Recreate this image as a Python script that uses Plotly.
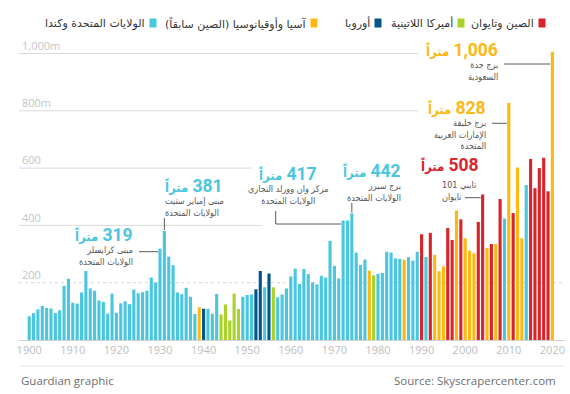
import plotly.graph_objects as go

# ---------------- data ----------------
years = list(range(1900, 2021))
heights = [
    83, 94, 107, 119, 112, 110, 94, 104, 189, 214,        # 1900-1909
    130, 127, 166, 241, 180, 172, 138, 133, 92, 162,      # 1910-1919
    95, 128, 135, 125, 176, 163, 167, 172, 218, 201,      # 1920-1929
    319, 381, 291, 261, 166, 160, 182, 151, 91, 114,      # 1930-1939
    109, 109, 92, 161, 89, 124, 68, 162, 108, 151,        # 1940-1949
    157, 159, 177, 241, 184, 232, 184, 149, 159, 180,     # 1950-1959
    222, 249, 196, 248, 230, 201, 194, 224, 218, 346,     # 1960-1969
    259, 215, 417, 417, 442, 305, 262, 281, 242, 226,     # 1970-1979
    231, 234, 308, 305, 285, 283, 280, 289, 277, 308,     # 1980-1989
    369, 290, 374, 297, 240, 257, 391, 349, 452, 421,     # 1990-1999
    355, 312, 303, 412, 508, 321, 335, 335, 492, 424,     # 2000-2009
    828, 443, 602, 355, 541, 632, 530, 600, 636, 519,     # 2010-2019
    1006,                                                 # 2020
]
regions = list(
    "UUUUUUUUUU"   # 1900s
    "UUUUUUUUUU"   # 1910s
    "UUUUUUUUUU"   # 1920s
    "UUUUUUUUUA"   # 1930s
    "EUUULLLLLU"   # 1940s
    "UUEEUELUUU"   # 1950s
    "UUUUUUUUUU"   # 1960s
    "UUUUUUUUAL"   # 1970s
    "UUUUUUAUUU"   # 1980s
    "CUCAAACCAC"   # 1990s
    "AAACCACACU"   # 2000s
    "ACAAUCCCCC"   # 2010s
    "A"            # 2020
)
legend_codes = ["C", "L", "E", "A", "U"]
legend_names = {
    "C": "الصين وتايوان",
    "L": "أميركا اللاتينية",
    "E": "أوروبا",
    "A": "آسيا وأوقيانوسيا (الصين سابقاً)\u200f",
    "U": "الولايات المتحدة وكندا",
}
grid_vals = [200, 400, 600, 800, 1000]
grid_text = ["200", "400", "600", "800m", "1,000m"]
x_tick_vals = list(range(1900, 2021, 10))

callouts = [
    dict(year=1930, num="319", lines=["مبنى كرايسلر", "الولايات المتحدة"]),
    dict(year=1931, num="381", lines=["مبنى إمباير ستيت", "الولايات المتحدة"]),
    dict(year=1972, num="417", lines=["مركز وان وورلد التجاري", "الولايات المتحدة"]),
    dict(year=1974, num="442", lines=["برج سيرز", "الولايات المتحدة"]),
    dict(year=2004, num="508", lines=["تايبي 101", "تايوان"]),
    dict(year=2010, num="828", lines=["برج خليفة", "الإمارات العربية", "المتحدة"]),
    dict(year=2020, num="1,006", lines=["برج جدة", "السعودية"]),
]
unit_word = "متراً"

# ---------------- styles ----------------
colors = {
    "U": "#4bc6df",
    "E": "#005689",
    "L": "#a9d22a",
    "A": "#fdb813",
    "C": "#d7252b",
}
GRAY_TXT = "#555555"
LEADER = "#5a5a5a"
W, H = 570, 394
LM, RM, TM, BM = 19, 5, 40, 54
PW, PH = W - LM - RM, H - TM - BM
PX_PER_YEAR = 4.36
PX_PER_M = 0.2865
X0 = 1900 - (29.2 - LM) / PX_PER_YEAR
X1 = X0 + PW / PX_PER_YEAR
Y1 = PH / PX_PER_M


def px2x(px):
    return X0 + (px - LM) / PX_PER_YEAR


def px2y(py):
    return (H - BM - py) / PX_PER_M


def xp(px):
    return (px - LM) / PW


def yp(py):
    return (H - BM - py) / PH


ARABIC = "DejaVu Sans, Noto Sans, sans-serif"
ARABIC_C = "DejaVu Sans Condensed, DejaVu Sans, sans-serif"
NUMF = "Roboto, sans-serif"
LIGHT = "Open Sans, Noto Sans, sans-serif"

fig = go.Figure()
fig.add_trace(go.Bar(
    x=years, y=heights,
    marker=dict(color=[colors[r] for r in regions], line=dict(width=0)),
    hoverinfo="x+y", showlegend=False,
))

shapes = []
# grid lines (some stop before the callouts)
grid_end_px = {200: 565, 400: 262, 600: 252, 800: 418, 1000: 418}
for v in grid_vals:
    shapes.append(dict(
        type="line", layer="below", xref="paper", yref="y",
        x0=0, x1=xp(grid_end_px[v]), y0=v, y1=v,
        line=dict(color="#d9d9d9", width=1, dash="dot" if v == 200 else "solid"),
    ))

annotations = []

# callout layout (pixel positions): big label centre, gray block centre
layout_px = {
    1930: dict(anchor="right", x=135, yb=235, yl=256),
    1931: dict(anchor="left", x=163, yb=186, yl=207),
    1972: dict(anchor="center", x=288, yb=174, yl=195),
    1974: dict(anchor="right", x=403, yb=171, yl=192),
    2004: dict(anchor="right", x=481, yb=165, yl=190.5, lanchor="left", lx=440),
    2010: dict(anchor="right", x=488, yb=107.5, yl=134.5),
    2020: dict(anchor="right", x=500, yb=49.5, yl=70.5),
}
hmap = dict(zip(years, heights))
rmap = dict(zip(years, regions))
for c in callouts:
    L = layout_px[c["year"]]
    col = colors[rmap[c["year"]]]
    txt = (f"<b><span style='font-size:13px'>{unit_word}</span>\u200e "
           f"<span style='font-family:{NUMF};font-size:17.5px'>{c['num']}</span></b>")
    annotations.append(dict(
        text=txt, x=px2x(L["x"]), y=px2y(L["yb"]), xref="x", yref="y",
        xanchor=L["anchor"], yanchor="middle", showarrow=False,
        font=dict(family=ARABIC_C, size=13, color=col),
    ))
    anc = L.get("lanchor", L["anchor"])
    annotations.append(dict(
        text="<br>".join(c["lines"]), x=px2x(L.get("lx", L["x"])), y=px2y(L["yl"]),
        xref="x", yref="y", xanchor=anc, yanchor="middle", align=anc,
        showarrow=False, font=dict(family=ARABIC_C, size=9, color=GRAY_TXT),
    ))

# leader lines
def hline(py, px_start, year):
    shapes.append(dict(type="line", xref="x", yref="y",
                       x0=px2x(px_start), x1=year - 0.45, y0=px2y(py), y1=px2y(py),
                       line=dict(color=LEADER, width=1)))


def vline(year, py_top):
    shapes.append(dict(type="line", xref="x", yref="y",
                       x0=year, x1=year, y0=px2y(py_top), y1=hmap[year] + 3,
                       line=dict(color=LEADER, width=1)))


hline(251.7, 139, 1930)
vline(1931, 218)
shapes.append(dict(type="line", xref="x", yref="y", x0=px2x(275.7), x1=px2x(275.7),
                   y0=px2y(211), y1=px2y(224), line=dict(color=LEADER, width=1)))
hline(224, 275.7, 1972)
vline(1974, 203)
hline(197.7, 465, 2004)
hline(123.3, 492, 2010)
hline(64, 504, 2020)

# legend (right-to-left)
leg_sq_px = {"C": 542, "L": 461, "E": 378, "A": 314, "U": 153}
LEG_Y = 23
for code in legend_codes:
    cx = leg_sq_px[code]
    shapes.append(dict(type="rect", xref="paper", yref="paper",
                       x0=xp(cx - 3.5), x1=xp(cx + 3.5), y0=yp(LEG_Y + 4.5), y1=yp(LEG_Y - 4.5),
                       fillcolor=colors[code], line=dict(width=0)))
    annotations.append(dict(
        text=legend_names[code], x=xp(cx - 6), y=yp(LEG_Y), xref="paper", yref="paper",
        xanchor="right", yanchor="middle", showarrow=False,
        font=dict(family=ARABIC, size=11, color="#333333"),
    ))

# footer
shapes.append(dict(type="line", xref="paper", yref="paper", x0=0, x1=1,
                   y0=yp(366), y1=yp(366), line=dict(color="#e6e6e6", width=1)))
annotations.append(dict(text="Guardian graphic", x=xp(19), y=yp(380), xref="paper", yref="paper",
                        xanchor="left", yanchor="middle", showarrow=False,
                        font=dict(family=LIGHT, size=11.5, color="#6e6e6e")))
annotations.append(dict(text="Source: Skyscrapercenter.com", x=xp(558), y=yp(380),
                        xref="paper", yref="paper", xanchor="right", yanchor="middle",
                        showarrow=False, font=dict(family=LIGHT, size=11.5, color="#6e6e6e")))

fig.update_layout(
    width=W, height=H,
    margin=dict(l=LM, r=RM, t=TM, b=BM, pad=0),
    paper_bgcolor="white", plot_bgcolor="white",
    bargap=0.28,
    shapes=shapes, annotations=annotations,
    xaxis=dict(range=[X0, X1], tickvals=x_tick_vals, ticks="", showgrid=False,
               zeroline=False, showline=True, linecolor="#d0d0d0", linewidth=1,
               ticklabeloverflow="allow",
               tickfont=dict(family=LIGHT, size=11, color="#bdbdbd")),
    yaxis=dict(range=[0, Y1], tickvals=grid_vals, ticktext=grid_text,
               ticklabelposition="inside top", ticklabeloverflow="allow",
               ticks="", showgrid=False, zeroline=False,
               tickfont=dict(family=LIGHT, size=11, color="#c4c4c4")),
    font=dict(family=LIGHT),
)

fig.write_html(
    "out.html",
    config={"displayModeBar": False},
    post_script="document.body.style.margin='0';document.body.style.overflow='hidden';",
)
